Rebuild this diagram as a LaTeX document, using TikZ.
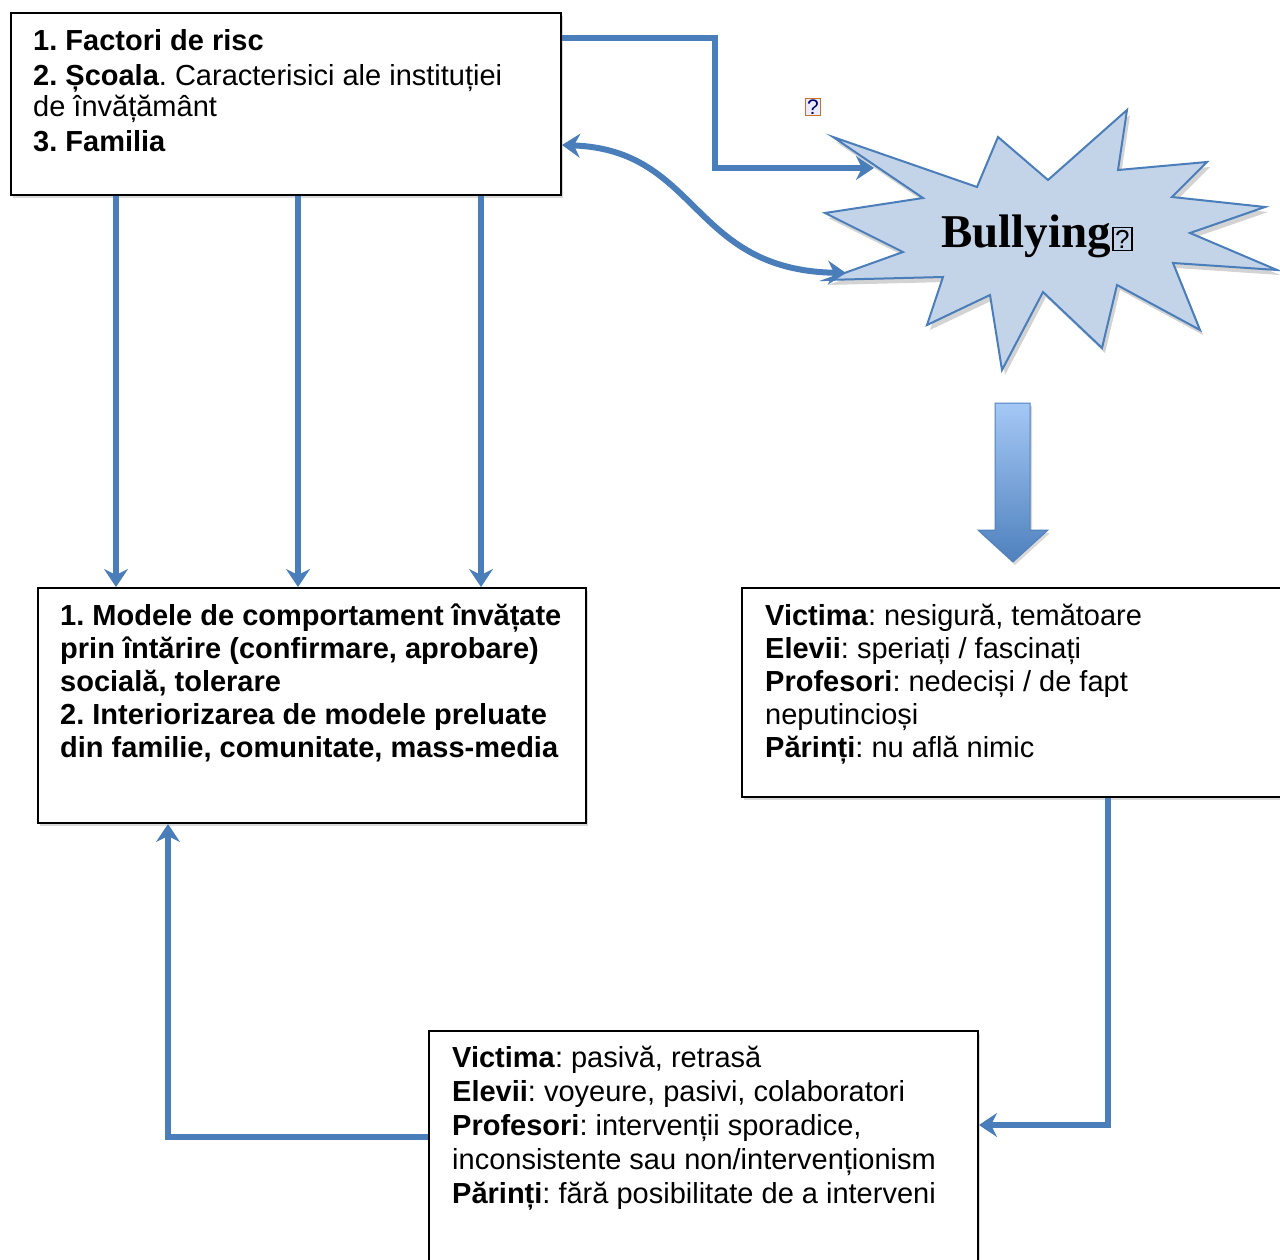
\documentclass[tikz,border=0pt]{standalone}
\usepackage{fontspec}
\setmainfont{Liberation Sans}
\newfontfamily\titlefont{Liberation Serif}
\usetikzlibrary{arrows.meta,shadows}
\definecolor{linkblue}{HTML}{4A7EBB}
\definecolor{burstfill}{HTML}{C3D3E8}
\definecolor{arrowtop}{HTML}{A5C8F6}
\definecolor{arrowbot}{HTML}{4F81BD}
\definecolor{iconedge}{HTML}{C8702A}
\frenchspacing
\newcommand{\qbox}{{\setlength{\fboxsep}{1.5pt}\setlength{\fboxrule}{1.5pt}\fbox{\normalfont\fontsize{26}{26}\selectfont ?}}}
\begin{document}
\begin{tikzpicture}[x=1pt,y=-1pt,
  box/.style={draw=black, line width=2pt, fill=white, inner sep=0pt, anchor=north west,
    drop shadow={opacity=0.3, shadow xshift=2pt, shadow yshift=-3pt}},
  txt/.style={anchor=base west, align=left, inner sep=0pt,
    font=\fontsize{29}{34}\selectfont},
  link/.style={draw=linkblue, line width=6pt},
  tip/.style={-{Stealth[length=18pt, width=24pt, inset=6pt]}},
  bothtips/.style={{Stealth[length=18pt, width=24pt, inset=6pt]}-{Stealth[length=18pt, width=24pt, inset=6pt]}}
]
\clip (0,0) rectangle (1280,1260);
\useasboundingbox (0,0) rectangle (1280,1260);

% boxes
\node[box, minimum width=550pt, minimum height=182pt] (risc) at (10,12) {};
\node[box, minimum width=548pt, minimum height=235pt] (model) at (37,587) {};
\node[box, minimum width=550pt, minimum height=209pt] (react) at (741,587) {};
\node[box, minimum width=549pt, minimum height=260pt] (passive) at (428,1030) {};

% box texts (each node is placed by the baseline of its last line)
\node[txt] (risctxt) at (33,152) {\textbf{1. Factori de risc}\\[1pt]
  \textbf{2. Școala}. Caracterisici ale instituției\\[-3pt]
  de învățământ\\[1pt]
  \textbf{3. Familia}};
\node[txt, font=\bfseries\fontsize{29}{33}\selectfont] (modeltxt) at (60,757) {1. Modele de comportament învățate\\
  prin întărire (confirmare, aprobare)\\
  socială, tolerare\\
  2. Interiorizarea de modele preluate\\
  din familie, comunitate, mass-media};
\node[txt, font=\fontsize{29}{33}\selectfont] (reacttxt) at (765,757) {\textbf{Victima}: nesigură, temătoare\\
  \textbf{Elevii}: speriați / fascinați\\
  \textbf{Profesori}: nedeciși / de fapt\\
  neputincioși\\
  \textbf{Părinți}: nu află nimic};
\node[txt, font=\fontsize{29}{34}\selectfont] (passivetxt) at (452,1203) {\textbf{Victima}: pasivă, retrasă\\
  \textbf{Elevii}: voyeure, pasivi, colaboratori\\
  \textbf{Profesori}: intervenții sporadice,\\
  inconsistente sau non/intervenționism\\
  \textbf{Părinți}: fără posibilitate de a interveni};

% starburst
\coordinate (p1) at (833,137);
\coordinate (q1) at (977,187);
\coordinate (p2) at (998,137);
\coordinate (q2) at (1048,180);
\coordinate (p3) at (1127,110);
\coordinate (q3) at (1118,170);
\coordinate (p4) at (1207,162);
\coordinate (q4) at (1172,197);
\coordinate (p5) at (1265,207);
\coordinate (q5) at (1190,233);
\coordinate (p6) at (1277,270);
\coordinate (q6) at (1173,263);
\coordinate (p7) at (1200,330);
\coordinate (q7) at (1117,285);
\coordinate (p8) at (1102,348);
\coordinate (q8) at (1043,292);
\coordinate (p9) at (1002,370);
\coordinate (q9) at (990,295);
\coordinate (p10) at (927,325);
\coordinate (q10) at (943,277);
\coordinate (p11) at (825,280);
\coordinate (q11) at (903,252);
\coordinate (p12) at (825,213);
\coordinate (q12) at (923,198);
\path[fill=burstfill, draw=linkblue, line width=2pt, line join=miter,
  drop shadow={opacity=0.35, shadow xshift=3pt, shadow yshift=-5pt}]
  (p1) -- (q1) -- (p2) -- (q2) -- (p3) -- (q3) -- (p4) -- (q4) -- (p5) -- (q5)
  -- (p6) -- (q6) -- (p7) -- (q7) -- (p8) -- (q8) -- (p9) -- (q9) -- (p10)
  -- (q10) -- (p11) -- (q11) -- (p12) -- (q12) -- cycle;
\node[font=\titlefont\bfseries\fontsize{47}{47}\selectfont, inner sep=0pt] (bully) at (1037,236)
  {Bullying\hspace{1pt}\raisebox{-1pt}{\qbox}};

% stray symbol above the burst
\node[draw=iconedge, fill=blue!8, line width=1.5pt, inner xsep=1.5pt, inner ysep=1pt,
  text=blue!40!black, font=\fontsize{21}{21}\selectfont] (icon) at (813,107) {?};

% connector end points on the burst
\coordinate (burstin) at (874,168);
\coordinate (burstlow) at (846,273);

% connectors
\draw[link, tip] ([yshift=-26pt]risc.north east) -| (715,168) -- (burstin);
\draw[link, bothtips] ([yshift=-133pt]risc.north east)
  .. controls (700,150) and (690,270) .. (burstlow);
\draw[link, tip] ([xshift=106pt]risc.south west) -- ([xshift=79pt]model.north west);
\draw[link, tip] ([xshift=288pt]risc.south west) -- ([xshift=261pt]model.north west);
\draw[link, tip] ([xshift=471pt]risc.south west) -- ([xshift=444pt]model.north west);
\draw[link, tip] ([xshift=367pt]react.south west) |- ([yshift=-95pt]passive.north east);
\draw[link, tip] ([yshift=-107pt]passive.north west) -| ([xshift=131pt]model.south west);

% block arrow from the burst down to the reaction box
\path[top color=arrowtop, bottom color=arrowbot, draw=arrowbot, line width=1pt,
  drop shadow={opacity=0.3, shadow xshift=2pt, shadow yshift=-3pt}]
  (995,403) -- (1030,403) -- (1030,530) -- (1048,530) -- (1013,562)
  -- (978,530) -- (995,530) -- cycle;
\end{tikzpicture}
\end{document}
